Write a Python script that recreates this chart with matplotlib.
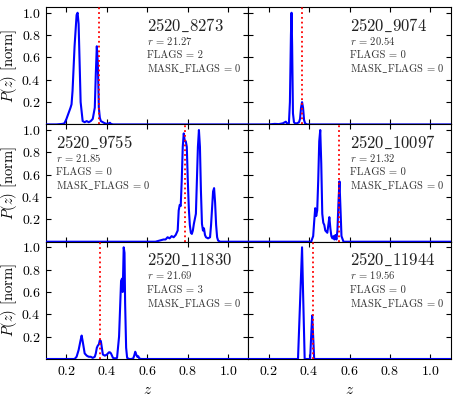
import matplotlib
matplotlib.use("Agg")
import matplotlib.pyplot as plt

plt.rcParams['font.family'] = 'serif'
plt.rcParams['font.serif'] = ['cmr10', 'DejaVu Serif']
plt.rcParams['mathtext.fontset'] = 'cm'
plt.rcParams['axes.formatter.use_mathtext'] = True

# ---- data ----
names = ['2520_8273', '2520_9074', '2520_9755', '2520_10097', '2520_11830', '2520_11944']
rmag = ['21.27', '20.54', '21.85', '21.32', '21.69', '19.56']
flags = [2, 0, 0, 0, 3, 0]
mask_flags = [0, 0, 0, 0, 0, 0]
zspec = [0.362, 0.367, 0.788, 0.550, 0.367, 0.417]
label_x = [0.50, 0.50, 0.05, 0.50, 0.50, 0.50]

z1 = [0.10, 0.15, 0.18, 0.19, 0.20, 0.21, 0.22, 0.225, 0.23, 0.24, 0.25, 0.255, 0.26, 0.265, 0.27, 0.28,
      0.29, 0.30, 0.31, 0.32, 0.33, 0.34, 0.345, 0.35, 0.355, 0.36, 0.365, 0.37, 0.38, 0.39, 0.40, 0.41,
      0.415, 0.42, 0.43, 1.10]
p1 = [0, 0, 0.005, 0.01, 0.05, 0.10, 0.15, 0.18, 0.30, 0.70, 0.98, 1.0, 0.90, 0.55, 0.20, 0.03,
      0.02, 0.03, 0.02, 0.03, 0.05, 0.15, 0.45, 0.70, 0.55, 0.15, 0.06, 0.03, 0.02, 0.01, 0.005, 0.01,
      0.015, 0.005, 0, 0]

z2 = [0.10, 0.20, 0.23, 0.25, 0.27, 0.28, 0.285, 0.29, 0.30, 0.305, 0.31, 0.313, 0.316, 0.32, 0.325,
      0.33, 0.34, 0.35, 0.355, 0.36, 0.365, 0.37, 0.375, 0.38, 0.39, 1.10]
p2 = [0, 0, 0.005, 0.003, 0.01, 0.02, 0.025, 0.01, 0.01, 0.2, 0.8, 1.0, 0.7, 0.1, 0.02,
      0.01, 0.01, 0.02, 0.05, 0.15, 0.2, 0.15, 0.04, 0.01, 0, 0]

z3 = [0.10, 0.64, 0.66, 0.68, 0.69, 0.70, 0.71, 0.72, 0.73, 0.74, 0.75, 0.755, 0.76, 0.765, 0.77, 0.775,
      0.78, 0.785, 0.79, 0.795, 0.80, 0.805, 0.81, 0.815, 0.82, 0.825, 0.83, 0.84, 0.845, 0.85, 0.855,
      0.86, 0.865, 0.87, 0.875, 0.88, 0.885, 0.89, 0.90, 0.91, 0.915, 0.92, 0.925, 0.93, 0.935, 0.94,
      0.945, 0.95, 0.96, 1.10]
p3 = [0, 0, 0.01, 0.02, 0.02, 0.04, 0.03, 0.05, 0.04, 0.06, 0.10, 0.28, 0.33, 0.32, 0.55, 0.85,
      0.97, 0.90, 0.90, 0.85, 0.55, 0.30, 0.15, 0.08, 0.07, 0.10, 0.16, 0.25, 0.55, 0.85, 1.0,
      0.85, 0.45, 0.16, 0.10, 0.12, 0.06, 0.04, 0.03, 0.04, 0.15, 0.30, 0.45, 0.48, 0.35, 0.15,
      0.04, 0.01, 0, 0]

z4 = [0.10, 0.41, 0.42, 0.425, 0.43, 0.435, 0.44, 0.445, 0.45, 0.455, 0.46, 0.465, 0.47, 0.475, 0.48,
      0.485, 0.49, 0.495, 0.50, 0.505, 0.51, 0.515, 0.52, 0.525, 0.53, 0.535, 0.54, 0.545, 0.55, 0.555,
      0.56, 0.57, 1.10]
p4 = [0, 0, 0.05, 0.18, 0.30, 0.23, 0.28, 0.55, 0.90, 1.0, 0.70, 0.25, 0.17, 0.15, 0.10,
      0.09, 0.08, 0.15, 0.22, 0.12, 0.05, 0.03, 0.05, 0.02, 0.06, 0.02, 0.10, 0.35, 0.54, 0.30,
      0.05, 0, 0]

z5 = [0.10, 0.24, 0.25, 0.26, 0.27, 0.275, 0.28, 0.29, 0.30, 0.31, 0.32, 0.33, 0.34, 0.345, 0.35,
      0.355, 0.36, 0.365, 0.37, 0.375, 0.38, 0.39, 0.40, 0.41, 0.415, 0.42, 0.43, 0.44, 0.45, 0.46,
      0.465, 0.47, 0.475, 0.478, 0.48, 0.483, 0.487, 0.49, 0.495, 0.50, 0.51, 0.52, 0.53, 0.535, 0.54,
      0.545, 0.55, 0.555, 0.56, 0.57, 1.10]
p5 = [0, 0, 0.02, 0.08, 0.17, 0.21, 0.16, 0.05, 0.03, 0.02, 0.02, 0.01, 0.02, 0.05, 0.10,
      0.12, 0.13, 0.17, 0.16, 0.10, 0.04, 0.03, 0.04, 0.06, 0.06, 0.05, 0.01, 0.005, 0.01, 0.2,
      0.45, 0.70, 0.72, 0.60, 0.75, 1.0, 0.95, 0.5, 0.1, 0.01, 0, 0, 0.005, 0.03, 0.065,
      0.04, 0.02, 0.025, 0.005, 0, 0]

z6 = [0.10, 0.345, 0.355, 0.365, 0.37, 0.378, 0.405, 0.41, 0.415, 0.42, 0.425, 1.10]
p6 = [0, 0, 0.5, 1.0, 0.6, 0, 0, 0.2, 0.39, 0.2, 0, 0]

curves_z = [z1, z2, z3, z4, z5, z6]
curves_p = [p1, p2, p3, p4, p5, p6]

xticks = [0.2, 0.4, 0.6, 0.8, 1.0]
yticks = [0.2, 0.4, 0.6, 0.8, 1.0]

fig, axes = plt.subplots(3, 2, figsize=(4.58, 3.98), dpi=100, sharex=True, sharey=True)
fig.subplots_adjust(left=0.101, right=0.984, top=0.982, bottom=0.098, wspace=0, hspace=0)

for i, ax in enumerate(axes.flat):
    ax.plot(curves_z[i], curves_p[i], color='blue', lw=1.5, zorder=3)
    ax.axvline(zspec[i], color='red', ls=':', lw=1.3, zorder=4)
    ax.set_xlim(0.1, 1.1)
    ax.set_ylim(0, 1.05)
    ax.set_xticks(xticks)
    ax.set_yticks(yticks)
    ax.tick_params(direction='in', top=True, right=True, length=3.5, labelsize=10, pad=4)
    lx = label_x[i]
    name = names[i].replace('_', r'\_')
    ax.text(lx, 0.80, r'$\mathrm{' + name + '}$', transform=ax.transAxes, fontsize=12, va='baseline', color='#222222')
    ax.text(lx, 0.68, r'$r$ = ' + rmag[i], transform=ax.transAxes, fontsize=7.6, va='baseline', color='#333333')
    ax.text(lx, 0.565, 'FLAGS = %d' % flags[i], transform=ax.transAxes, fontsize=7.6, va='baseline', color='#333333')
    ax.text(lx, 0.445, r'MASK$\_$FLAGS = %d' % mask_flags[i], transform=ax.transAxes, fontsize=7.6, va='baseline', color='#333333')
    if i % 2 == 0:
        ax.set_ylabel(r'$P(z)$ [norm]', fontsize=10.5, labelpad=2)
    if i >= 4:
        ax.set_xlabel(r'$z$', fontsize=11)

fig.savefig('out.png', dpi=100)
